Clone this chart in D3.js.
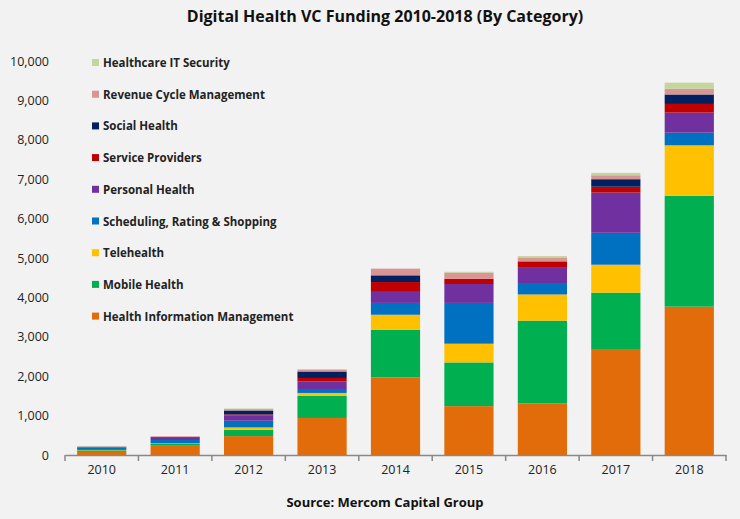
<!DOCTYPE html>
<html>
<head>
<meta charset="utf-8">
<script src="https://cdn.jsdelivr.net/npm/d3@7"></script>
<style>
  body { margin: 0; background: #f2f2f2; }
  text { font-family: "Open Sans", "Liberation Sans", sans-serif; }
</style>
</head>
<body>
<svg id="chart" width="740" height="519"></svg>
<script>
// categories and series (bottom to top of stack)
const years = ["2010", "2011", "2012", "2013", "2014", "2015", "2016", "2017", "2018"];
const seriesNames = ["Health Information Management", "Mobile Health", "Telehealth",
  "Scheduling, Rating & Shopping", "Personal Health", "Service Providers",
  "Social Health", "Revenue Cycle Management", "Healthcare IT  Security"];
const seriesColors = ["#e36c0a", "#00b050", "#ffc000", "#0070c0", "#7030a0", "#c00000",
  "#002060", "#d99594", "#c4d79b"];

const him       = [80, 235, 480, 940, 1970, 1240, 1310, 2670, 3765];
const mobile    = [40, 45, 160, 560, 1210, 1110, 2100, 1450, 2815];
const tele      = [10, 15, 60, 75, 380, 475, 665, 710, 1280];
const sched     = [60, 85, 170, 100, 300, 1035, 290, 810, 320];
const personal  = [10, 75, 130, 195, 280, 480, 405, 1020, 510];
const providers = [5, 5, 30, 85, 250, 135, 145, 150, 220];
const social    = [5, 0, 100, 165, 170, 0, 0, 190, 240];
const revenue   = [5, 15, 35, 50, 170, 155, 100, 100, 150];
const security  = [5, 0, 15, 0, 0, 20, 35, 60, 150];
const yTicks = [0, 1000, 2000, 3000, 4000, 5000, 6000, 7000, 8000, 9000, 10000];

const allSeries = [him, mobile, tele, sched, personal, providers, social, revenue, security];
const rows = years.map((y, i) => {
  const r = { year: y };
  seriesNames.forEach((n, j) => r[n] = allSeries[j][i]);
  return r;
});

const svg = d3.select("#chart");
const x = d3.scaleBand().domain(years).range([65, 726]).paddingInner(0.33).paddingOuter(0.165);
const y = d3.scaleLinear().domain([0, 10000]).range([455, 61]);

const stack = d3.stack().keys(seriesNames)(rows);

svg.append("g").selectAll("g")
  .data(stack)
  .join("g")
  .attr("fill", (d, i) => seriesColors[i])
  .selectAll("rect")
  .data(d => d)
  .join("rect")
  .attr("x", d => x(d.data.year))
  .attr("width", x.bandwidth())
  .attr("y", d => y(d[1]))
  .attr("height", d => y(d[0]) - y(d[1]));

// y axis labels only
const yAxis = svg.append("g")
  .attr("transform", "translate(52,0)")
  .call(d3.axisLeft(y).tickValues(yTicks).tickFormat(d3.format(",")).tickSize(0));
yAxis.select(".domain").remove();
yAxis.selectAll("text").attr("font-size", 12.5).attr("fill", "#222");

// x axis
const xAxis = svg.append("g")
  .attr("transform", "translate(0,455)")
  .call(d3.axisBottom(x).tickSize(0).tickPadding(10));
xAxis.select(".domain").attr("stroke", "#888").attr("stroke-width", 1.5);
xAxis.selectAll("text").attr("font-size", 12.5).attr("fill", "#222");
const step = x.step();
svg.append("g").selectAll("line")
  .data(d3.range(years.length + 1))
  .join("line")
  .attr("x1", i => 65 + i * step).attr("x2", i => 65 + i * step)
  .attr("y1", 455).attr("y2", 461)
  .attr("stroke", "#888").attr("stroke-width", 1.5);

// legend (top item first)
const legend = svg.append("g");
const legendItems = seriesNames.map((n, i) => ({ n, c: seriesColors[i] })).reverse();
legendItems.forEach((d, i) => {
  const ly = 63 + i * 31.7;
  legend.append("rect").attr("x", 92).attr("y", ly - 4).attr("width", 7).attr("height", 7).attr("fill", d.c);
  legend.append("text").attr("x", 103).attr("y", ly).attr("dy", "0.35em")
    .attr("font-size", 11.5).attr("font-weight", "bold").attr("fill", "#222").text(d.n);
});

svg.append("text").attr("x", 385).attr("y", 22).attr("text-anchor", "middle")
  .attr("font-size", 16).attr("font-weight", "bold").attr("fill", "#111")
  .text("Digital Health VC Funding 2010-2018 (By Category)");
svg.append("text").attr("x", 385).attr("y", 507).attr("text-anchor", "middle")
  .attr("font-size", 13).attr("font-weight", "bold").attr("fill", "#111")
  .text("Source: Mercom Capital Group");
</script>
</body>
</html>
